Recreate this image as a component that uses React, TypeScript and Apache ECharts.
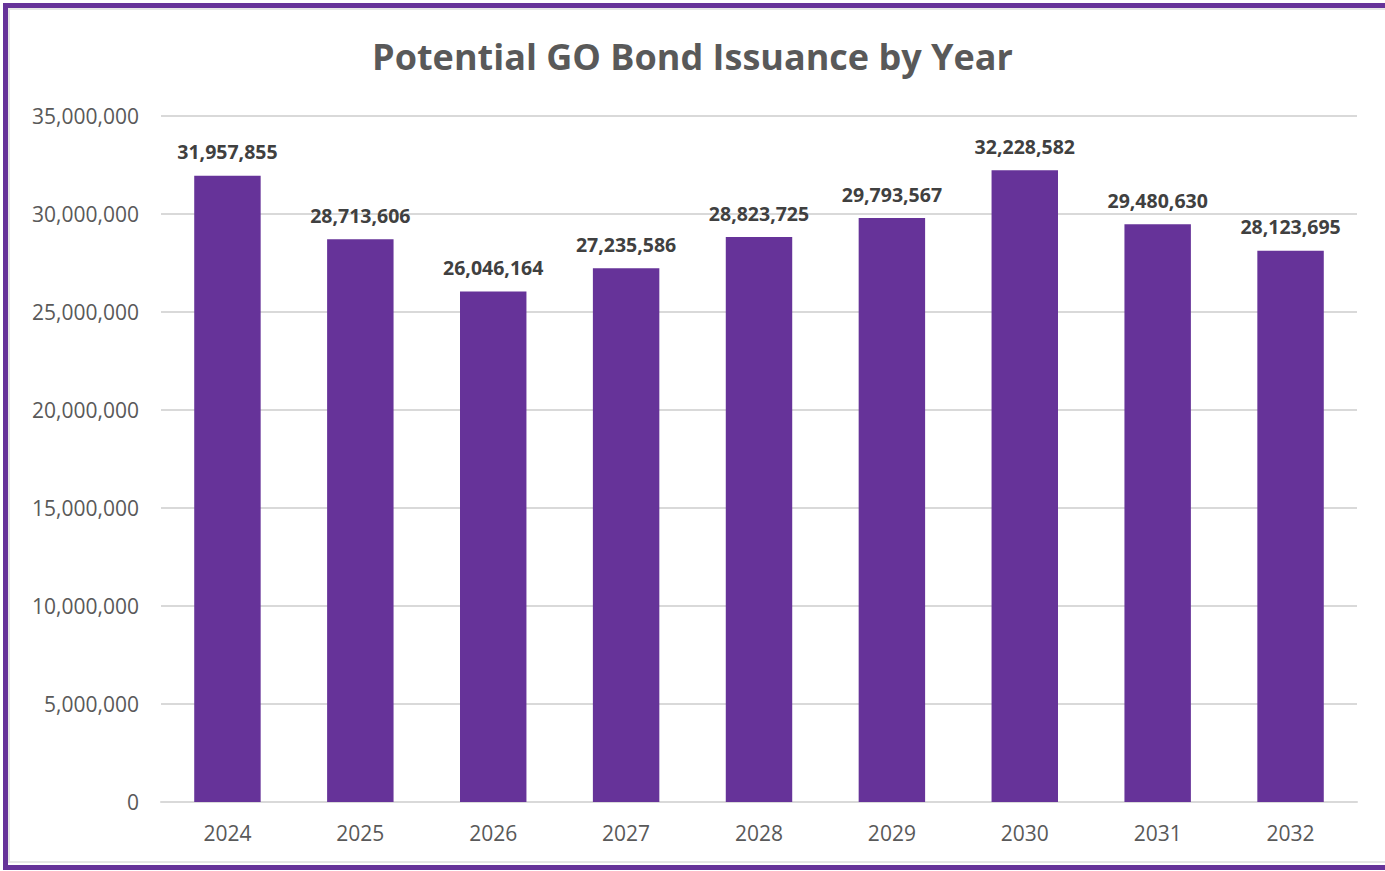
import React, { useEffect, useRef } from "react";
import * as echarts from "echarts";

const years = ["2024", "2025", "2026", "2027", "2028", "2029", "2030", "2031", "2032"];
const issuance = [31957855, 28713606, 26046164, 27235586, 28823725, 29793567, 32228582, 29480630, 28123695];
const chartTitle = "Potential GO Bond Issuance by Year";

const fmt = (v: number) => v.toLocaleString("en-US");

export default function App() {
  const ref = useRef<HTMLDivElement>(null);
  useEffect(() => {
    if (!ref.current) return;
    const chart = echarts.init(ref.current, null, { renderer: "svg" });
    const font = "'Open Sans', 'Noto Sans', sans-serif";
    chart.setOption({
      animation: false,
      backgroundColor: "#ffffff",
      title: {
        text: chartTitle,
        left: "center",
        top: 33,
        textStyle: { fontFamily: font, fontSize: 36, fontWeight: "bold", color: "#595959" },
      },
      graphic: [
        {
          type: "rect",
          shape: { x: 9, y: 9, width: 1400, height: 853 },
          style: { fill: "none", stroke: "#e6e6e6", lineWidth: 2 },
          silent: true,
        },
        {
          type: "rect",
          shape: { x: 5.5, y: 5.5, width: 1400, height: 862 },
          style: { fill: "none", stroke: "#663399", lineWidth: 5 },
          silent: true,
        },
      ],
      grid: { left: 161, right: 28, top: 116, bottom: 69, containLabel: false },
      xAxis: {
        type: "category",
        data: years,
        axisLine: { lineStyle: { color: "#d9d9d9", width: 2 } },
        axisTick: { show: false },
        axisLabel: { fontFamily: font, fontSize: 21, color: "#595959", margin: 20 },
      },
      yAxis: {
        type: "value",
        min: 0,
        max: 35000000,
        interval: 5000000,
        axisLine: { show: false },
        axisTick: { show: false },
        splitLine: { lineStyle: { color: "#d9d9d9", width: 2 } },
        axisLabel: {
          fontFamily: font,
          fontSize: 21,
          color: "#595959",
          margin: 22,
          formatter: (v: number) => fmt(v),
        },
      },
      series: [
        {
          type: "bar",
          data: issuance,
          barWidth: "50%",
          itemStyle: { color: "#663399" },
          label: {
            show: true,
            position: "top",
            distance: 14,
            fontFamily: font,
            fontSize: 19.5,
            fontWeight: "bold",
            color: "#404040",
            formatter: (p: any) => fmt(p.value),
          },
        },
      ],
    });
    return () => chart.dispose();
  }, []);
  return (
    <div
      ref={ref}
      style={{ position: "fixed", left: 0, top: 0, width: 1385, height: 871 }}
    />
  );
}
